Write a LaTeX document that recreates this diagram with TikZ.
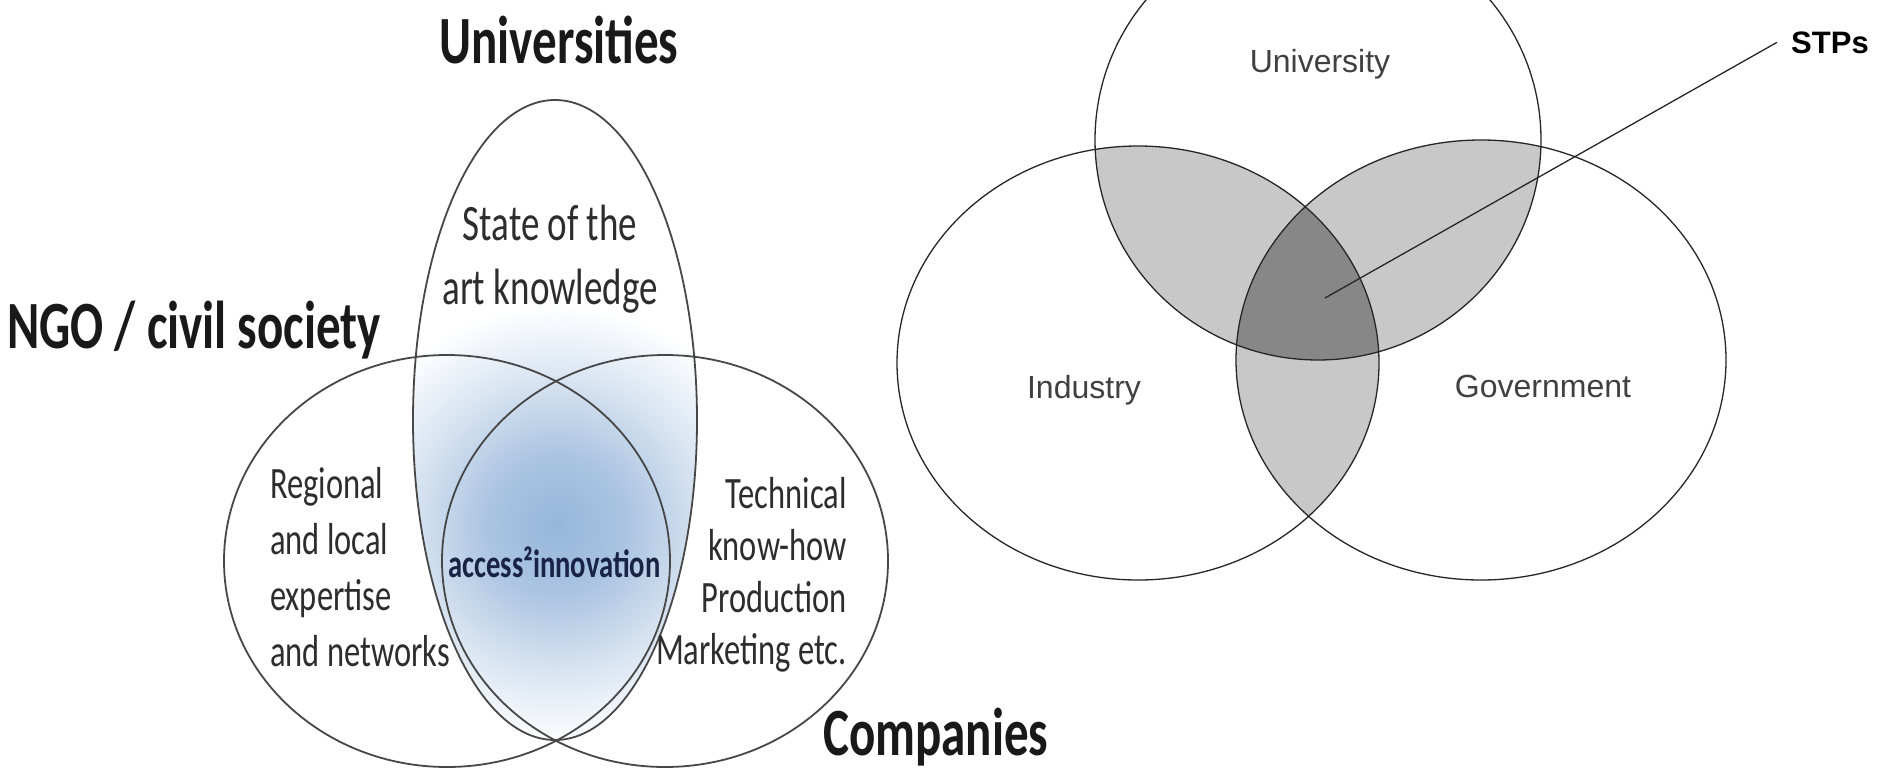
\documentclass[tikz,border=0pt]{standalone}
\usepackage{fontspec}
\usepackage{graphicx}
\setmainfont{Carlito}
\newfontfamily\arialfont{Liberation Sans}
\usetikzlibrary{calc}
\definecolor{glowblue}{RGB}{150,182,218}
\definecolor{navyink}{RGB}{25,35,70}
\definecolor{lensgray}{RGB}{200,200,200}
\definecolor{coregray}{RGB}{135,135,135}
\definecolor{inkgray}{RGB}{45,45,45}
\pgfdeclareradialshading{glow}{\pgfpoint{0bp}{0bp}}{color(0bp)=(glowblue); color(8bp)=(glowblue!80!white); color(17bp)=(glowblue!35!white); color(25bp)=(white); color(50bp)=(white)}
\newcommand{\tall}[1]{\scalebox{1}[1.38]{#1}}
% left diagram
\def\unis{(555,420) ellipse [x radius=142pt, y radius=320pt]}
\def\ngos{(447,561) ellipse [x radius=223pt, y radius=206pt]}
\def\comps{(665,561) ellipse [x radius=223pt, y radius=206pt]}
% right diagram
\def\univ{(1318,140) ellipse [x radius=223pt, y radius=220pt]}
\def\indus{(1138,363) ellipse [x radius=241pt, y radius=217pt]}
\def\govt{(1481,360) ellipse [x radius=245pt, y radius=220pt]}

\begin{document}
\begin{tikzpicture}[x=1pt, y=-1pt,
		lset/.style={draw=black!72, line width=1.8pt},
		rset/.style={draw=black!85, line width=1.3pt},
		title/.style={inner sep=0pt, text=black!90, font=\bfseries\fontsize{49}{59}\selectfont},
		body/.style={inner sep=0pt, text=inkgray},
		rlabel/.style={inner sep=0pt, text=black!75, font=\arialfont\fontsize{32}{38}\selectfont}]
			%%%%% START %%%%%
			
			\useasboundingbox (0,0) rectangle (1878,771);
			\clip (0,0) rectangle (1878,771);
			\fill[white] (0,0) rectangle (1878,771);
			
			% glow in the middle
			\begin{scope}
				\clip \unis;
				\shade[shading=glow] (557,525) circle (220pt);
			\end{scope}
			
			\draw[lset] \unis;
			\draw[lset] \ngos;
			\draw[lset] \comps;
			
			\node[title, anchor=base] (universities) at (559,63) {\tall{Universities}};
			\node[title, anchor=base west] (ngo) at (7,348) {\tall{NGO / civil society}};
			\node[title, anchor=base west] (companies) at (823,755) {\tall{Companies}};
			
			\node[body, anchor=base, font=\fontsize{37}{47}\selectfont] (stateart) at (550,240)
				{\tall{\begin{tabular}[t]{@{}c@{}}State of the\\art knowledge\end{tabular}}};
			\node[body, anchor=base west, font=\fontsize{32.5}{40.6}\selectfont] (regional) at (270,498)
				{\tall{\begin{tabular}[t]{@{}l@{}}Regional\\and local\\expertise\\and networks\end{tabular}}};
			\node[body, anchor=base east, font=\fontsize{32.5}{37.7}\selectfont] (technical) at (847,508)
				{\tall{\begin{tabular}[t]{@{}r@{}}Technical\\know-how\\Production\\Marketing etc.\end{tabular}}};
			\node[inner sep=0pt, anchor=base west, text=navyink, font=\bfseries\fontsize{28.6}{34}\selectfont] (access) at (448,577)
				{\tall{access²innovation}};
			
			% shaded overlaps
			\begin{scope}
				\clip \univ;
				\fill[lensgray] \indus;
				\fill[lensgray] \govt;
			\end{scope}
			\begin{scope}
				\clip \indus;
				\fill[lensgray] \govt;
			\end{scope}
			\begin{scope}
				\clip \univ;
				\clip \indus;
				\fill[coregray] \govt;
			\end{scope}
			
			\draw[rset] \univ;
			\draw[rset] \indus;
			\draw[rset] \govt;
			
			\node[rlabel, anchor=base] (university) at (1320,72) {University};
			\node[rlabel, anchor=base] (industry) at (1084,398) {Industry};
			\node[rlabel, anchor=base] (government) at (1543,397) {Government};
			\node[inner xsep=14pt, inner ysep=0pt, anchor=base west, text=black, font=\arialfont\bfseries\fontsize{31}{37}\selectfont] (stps) at (1777,53) {STPs};
			
			\coordinate (core) at (1325,298);
			\draw[black!85, line width=1.3pt] (stps.west) -- (core);
			
			%%%%% END %%%%%
\end{tikzpicture}
\end{document}
